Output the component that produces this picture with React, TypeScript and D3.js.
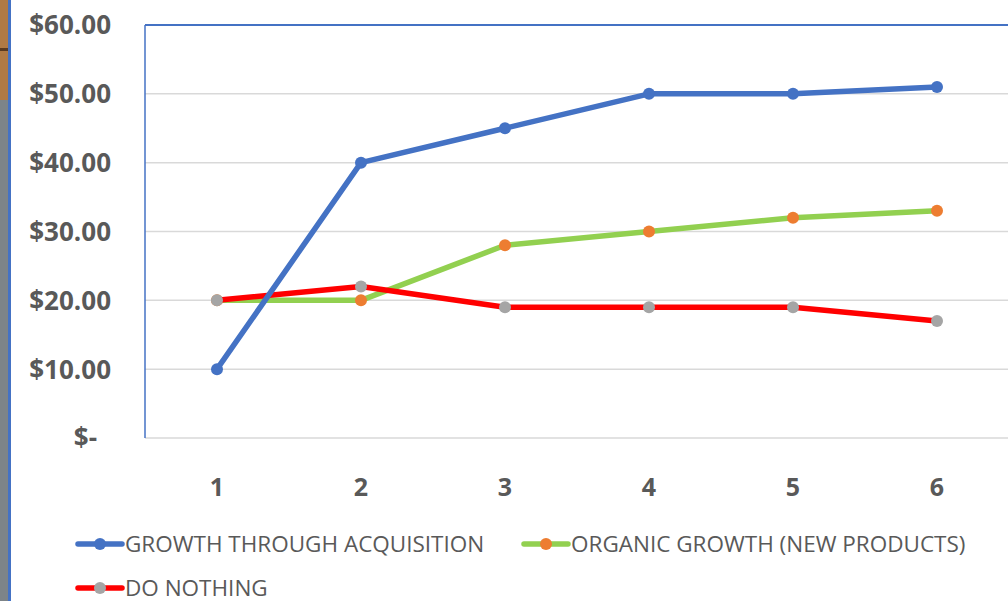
import React from "react";
import * as d3 from "d3";

const categories = ["1", "2", "3", "4", "5", "6"];
const acquisition = [10, 40, 45, 50, 50, 51];
const organic = [20, 20, 28, 30, 32, 33];
const doNothing = [20, 22, 19, 19, 19, 17];
const yTicks = [0, 10, 20, 30, 40, 50, 60];

const series = [
  { name: "ORGANIC GROWTH (NEW PRODUCTS)", values: organic, line: "#92d050", marker: "#ed7d31" },
  { name: "DO NOTHING", values: doNothing, line: "#ff0000", marker: "#a5a5a5" },
  { name: "GROWTH THROUGH ACQUISITION", values: acquisition, line: "#4472c4", marker: "#4472c4" },
];

const W = 1008, H = 601;
const left = 145, top = 25, bottom = 438, right = 1009;

export default function App() {
  const x = d3.scaleBand<string>().domain(categories).range([left, right]);
  const y = d3.scaleLinear().domain([0, 60]).range([bottom, top]);
  const line = d3.line<number>().x((_, i) => (x(categories[i]) as number) + x.bandwidth() / 2).y((d) => y(d));
  const fmt = (v: number) => (v === 0 ? "$-" : "$" + v.toFixed(2));
  const legend = [
    { s: series[2], lx: 78, ly: 544 },
    { s: series[0], lx: 524, ly: 544 },
    { s: series[1], lx: 78, ly: 588 },
  ];
  return (
    <div style={{ position: "absolute", left: 0, top: 0 }}>
      <svg width={W} height={H} style={{ display: "block", fontFamily: "'Open Sans', sans-serif" }}>
        <rect x={0} y={0} width={W} height={H} fill="#ffffff" />
        <rect x={0} y={0} width={8} height={100} fill="#b07a45" />
        <rect x={0} y={48} width={8} height={3} fill="#5a3a20" />
        <rect x={0} y={100} width={8} height={501} fill="#7d8488" />
        <rect x={8} y={0} width={3} height={H} fill="#4472c4" />
        {yTicks.map((t) => (
          <line key={t} x1={left} x2={W} y1={y(t)} y2={y(t)} stroke={t === 60 ? "#4472c4" : "#d9d9d9"} strokeWidth={t === 60 ? 2 : 1.5} />
        ))}
        <line x1={left} x2={left} y1={top} y2={bottom} stroke="#4472c4" strokeWidth={1.5} />
        {yTicks.map((t) => (
          <text key={t} x={t === 0 ? 97 : 111} y={y(t)} dy="0.36em" textAnchor="end" fontSize={26} fontWeight={700} fill="#595959">
            {fmt(t)}
          </text>
        ))}
        {categories.map((c) => (
          <text key={c} x={(x(c) as number) + x.bandwidth() / 2} y={487} dy="0.36em" textAnchor="middle" fontSize={25} fontWeight={700} fill="#595959">
            {c}
          </text>
        ))}
        {series.map((s) => (
          <g key={s.name}>
            <path d={line(s.values) as string} fill="none" stroke={s.line} strokeWidth={5.5} strokeLinejoin="round" strokeLinecap="round" />
            {s.values.map((v, i) => (
              <circle key={i} cx={(x(categories[i]) as number) + x.bandwidth() / 2} cy={y(v)} r={6} fill={s.marker} />
            ))}
          </g>
        ))}
        {legend.map(({ s, lx, ly }) => (
          <g key={s.name}>
            <line x1={lx} x2={lx + 44} y1={ly} y2={ly} stroke={s.line} strokeWidth={5.5} strokeLinecap="round" />
            <circle cx={lx + 22} cy={ly} r={6} fill={s.marker} />
            <text x={lx + 47} y={ly} dy="0.36em" fontSize={22.5} fill="#595959">{s.name}</text>
          </g>
        ))}
      </svg>
    </div>
  );
}
